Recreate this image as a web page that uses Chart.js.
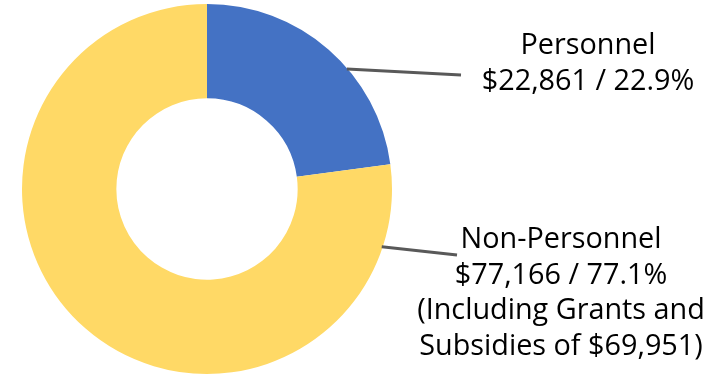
<!DOCTYPE html>
<html>
<head>
<meta charset="utf-8">
<script src="https://cdn.jsdelivr.net/npm/chart.js@4/dist/chart.umd.min.js"></script>
<style>
  html, body { margin: 0; padding: 0; background: #fff; }
  #wrap { width: 717px; height: 378px; position: relative; }
</style>
</head>
<body>
<div id="wrap"><canvas id="budget-chart"></canvas></div>
<script>
const categories = ['Personnel', 'Non-Personnel'];
const amounts = [22861, 77166];
const percents = ['22.9%', '77.1%'];
const extraLines = [[], ['(Including Grants and', 'Subsidies of $69,951)']];
const colors = ['#4472C4', '#FFD966'];

const fmt = n => '$' + n.toLocaleString('en-US');

// callouts: where the leader leaves the ring (degrees clockwise from top),
// where it ends, and where the text block is centred
const callouts = [
  { angle: 49.6, lineEnd: [461, 75], textX: 588, firstBaseline: 54 },
  { angle: 108.2, lineEnd: [457, 255], textX: 561, firstBaseline: 248 }
];

const calloutPlugin = {
  id: 'callouts',
  afterDatasetsDraw(chart) {
    const ctx = chart.ctx;
    const arc = chart.getDatasetMeta(0).data[0];
    const cx = arc.x, cy = arc.y, r = arc.outerRadius;
    ctx.save();
    callouts.forEach((c, i) => {
      const a = c.angle * Math.PI / 180;
      const sx = cx + r * Math.sin(a) - 1;
      const sy = cy - r * Math.cos(a);
      ctx.strokeStyle = '#595959';
      ctx.lineWidth = 3;
      ctx.beginPath();
      ctx.moveTo(sx, sy);
      ctx.lineTo(c.lineEnd[0], c.lineEnd[1]);
      ctx.stroke();

      const lines = [categories[i], fmt(amounts[i]) + ' / ' + percents[i], ...extraLines[i]];
      ctx.fillStyle = '#000';
      ctx.font = '28.8px "Open Sans"';
      ctx.textAlign = 'center';
      ctx.textBaseline = 'alphabetic';
      lines.forEach((t, j) => ctx.fillText(t, c.textX, c.firstBaseline + j * 35.7));
    });
    ctx.restore();
  }
};

new Chart(document.getElementById('budget-chart'), {
  type: 'doughnut',
  data: {
    labels: categories,
    datasets: [{
      data: amounts,
      backgroundColor: colors,
      borderWidth: 0
    }]
  },
  options: {
    responsive: true,
    maintainAspectRatio: false,
    animation: false,
    cutout: '49%',
    layout: { padding: { left: 22, right: 325, top: 4, bottom: 4 } },
    plugins: {
      legend: { display: false },
      tooltip: { enabled: false }
    }
  },
  plugins: [calloutPlugin]
});
</script>
</body>
</html>
